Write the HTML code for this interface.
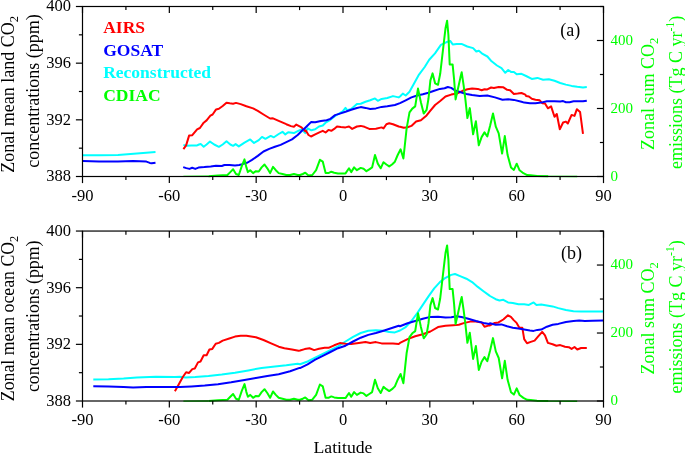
<!DOCTYPE html>
<html><head><meta charset="utf-8"><title>Zonal mean CO2</title>
<style>html,body{margin:0;padding:0;background:#fff}body{width:685px;height:454px;position:relative;overflow:hidden;font-family:"Liberation Serif",serif}</style>
</head><body>
<svg width="685" height="454" viewBox="0 0 685 454" style="position:absolute;left:0;top:0">
<polyline points="82.8,155.3 99.0,155.3 118.0,154.9 136.9,153.6 155.5,152.1" fill="none" stroke="#00ffff" stroke-width="2.0" stroke-linejoin="round" stroke-linecap="butt"/>
<polyline points="183.4,144.9 186.6,145.8 191.4,145.4 197.1,145.4 199.0,144.5 200.9,144.1 203.7,146.8 206.6,144.5 210.0,141.6 214.2,144.5 218.9,146.8 222.7,144.5 226.5,141.3 230.3,144.5 233.1,145.8 235.6,144.1 238.8,146.4 244.5,142.6 250.2,139.4 254.0,143.0 258.8,140.1 262.0,136.9 265.4,138.8 270.7,135.9 273.9,137.3 278.7,134.0 282.5,131.8 285.3,134.4 288.2,132.2 293.9,133.1 297.7,131.2 301.5,129.3 305.3,133.1 307.6,128.4 311.4,130.3 315.2,129.3 319.0,126.5 322.8,125.5 325.6,122.7 330.4,119.8 335.1,116.0 339.9,113.2 342.7,111.3 345.5,107.9 347.4,110.3 351.2,109.0 356.9,104.1 360.7,103.7 365.5,101.8 370.2,100.3 375.0,98.4 377.8,100.8 381.6,98.9 387.3,98.0 393.0,96.1 398.7,97.4 400.0,96.5 402.8,93.6 405.7,95.5 409.5,91.7 414.2,83.2 419.0,74.6 424.7,67.0 425.0,66.6 429.2,59.7 435.0,53.4 440.9,44.9 446.1,42.3 450.2,40.9 452.7,44.4 456.7,43.9 461.5,43.9 467.3,46.5 473.1,48.1 476.3,51.5 478.9,50.7 482.6,53.9 487.4,56.5 491.6,61.3 497.0,65.5 501.5,68.1 505.3,72.8 508.2,70.0 511.0,71.9 513.9,71.9 516.7,74.3 521.5,73.8 526.1,76.0 531.8,78.9 537.4,77.9 543.1,79.8 548.8,79.2 554.5,80.8 560.2,83.0 565.9,84.6 571.6,85.9 577.3,86.8 583.0,87.4 586.8,87.0" fill="none" stroke="#00ffff" stroke-width="2.0" stroke-linejoin="round" stroke-linecap="butt"/>
<polyline points="183.4,149.2 186.1,145.4 189.1,135.6 192.3,135.2 197.1,129.3 199.9,128.0 203.7,122.7 206.6,120.4 210.4,115.6 212.6,114.5 216.1,109.4 218.9,108.8 222.7,106.0 226.5,102.7 229.7,103.3 233.1,103.7 236.0,102.9 240.7,104.1 246.4,106.2 253.1,108.4 257.8,110.9 263.5,114.5 270.1,118.5 273.0,118.3 278.7,120.8 286.3,124.2 291.0,126.1 293.9,126.8 296.3,124.6 301.5,127.4 305.3,131.2 305.7,130.3 308.5,135.0 311.0,136.5 315.2,134.4 319.9,132.2 322.8,130.8 325.6,132.5 328.5,129.9 331.3,130.8 334.2,128.9 337.0,126.5 340.8,127.0 345.5,127.4 349.0,126.5 352.2,128.9 356.9,126.5 360.7,125.9 364.5,126.8 369.3,128.9 375.9,128.7 381.6,127.4 383.5,128.4 386.4,124.2 389.2,123.2 393.0,124.2 398.7,126.5 400.0,126.8 403.8,127.8 407.6,127.2 411.4,125.9 416.1,121.5 420.9,120.2 426.6,115.4 430.4,110.7 435.1,105.0 439.9,101.2 445.5,96.5 451.2,94.6 456.9,93.6 462.6,90.8 467.4,89.2 472.1,88.5 477.8,88.9 481.6,90.2 484.5,89.2 487.3,89.4 491.1,87.5 493.9,87.9 498.7,87.0 503.4,87.3 507.2,89.8 510.1,90.2 513.9,94.0 517.7,93.6 521.5,93.0 525.3,94.6 526.1,95.9 528.9,96.5 531.8,98.8 535.5,99.7 539.7,100.3 542.2,103.2 545.0,103.5 547.9,108.3 551.1,106.4 554.5,116.8 556.8,114.0 559.8,129.2 563.1,122.5 565.9,121.6 567.8,123.5 571.6,114.9 574.5,115.9 576.9,109.2 580.1,112.1 583.0,133.9" fill="none" stroke="#ff0000" stroke-width="2.0" stroke-linejoin="round" stroke-linecap="butt"/>
<polyline points="82.8,161.0 99.0,161.4 118.0,161.4 133.1,161.0 146.4,161.6 149.8,162.9 151.7,163.3 155.5,162.7" fill="none" stroke="#0000ff" stroke-width="2.0" stroke-linejoin="round" stroke-linecap="butt"/>
<polyline points="183.2,167.1 186.3,168.1 189.5,168.9 192.2,167.8 195.3,168.9 198.5,167.6 204.3,167.1 210.7,166.4 215.9,165.7 221.8,166.0 224.4,165.0 229.7,165.0 235.0,165.4 239.2,165.0 243.4,163.9 247.7,162.5 252.0,159.9 257.8,155.9 263.5,151.5 269.2,148.9 274.9,146.8 280.6,144.9 286.3,142.2 292.0,139.4 297.7,135.0 303.4,129.3 303.8,129.3 307.6,125.5 311.0,122.1 315.2,122.3 320.9,121.1 326.6,120.2 330.4,118.9 335.1,115.1 339.9,113.6 345.5,111.8 351.2,109.8 356.9,108.0 360.7,107.1 365.5,107.9 370.2,109.0 375.9,108.4 381.6,106.9 387.3,106.2 394.9,105.0 400.0,103.1 405.7,100.3 411.4,97.4 417.1,95.5 422.8,94.2 428.5,92.7 434.2,90.8 439.9,88.9 444.6,88.3 447.8,87.0 451.2,87.9 455.0,90.4 460.7,92.3 466.4,94.0 472.1,95.1 479.7,95.9 487.3,95.5 494.9,97.4 502.5,99.7 508.2,99.3 513.9,99.9 521.5,101.8 524.2,102.6 529.9,103.2 535.5,103.2 541.2,102.6 546.9,101.3 554.5,101.3 560.2,101.6 563.1,101.1 565.9,102.2 569.7,102.2 573.5,101.3 579.2,101.3 583.0,101.3 586.8,100.7" fill="none" stroke="#0000ff" stroke-width="2.0" stroke-linejoin="round" stroke-linecap="butt"/>
<polyline points="183.4,176.4 208.5,176.3" fill="none" stroke="#00ff00" stroke-width="1.4" stroke-linejoin="round" stroke-linecap="butt"/>
<polyline points="537.0,176.0 548.2,176.4 577.2,176.5" fill="none" stroke="#00ff00" stroke-width="1.4" stroke-linejoin="round" stroke-linecap="butt"/>
<polyline points="208.5,176.2 218.0,175.5 227.4,175.0 230.3,172.1 233.1,169.3 236.0,174.0 238.8,175.0 241.7,166.4 244.5,159.4 246.4,167.4 247.9,172.1 250.2,170.2 253.1,173.1 255.9,171.2 258.8,171.5 261.6,167.4 264.5,164.5 267.3,168.3 270.1,173.1 273.0,166.8 275.8,170.2 278.7,173.1 282.5,174.0 286.3,175.0 290.1,175.0 293.9,174.0 297.7,175.0 300.0,175.0 302.8,174.0 305.3,172.7 308.5,175.5 312.3,175.0 316.1,170.2 319.9,159.8 322.8,161.7 325.6,173.1 328.5,173.1 331.3,171.7 334.2,172.7 338.0,173.4 345.5,173.4 349.0,168.3 351.2,172.1 354.1,167.4 356.9,170.2 360.7,167.9 363.6,168.7 366.4,171.2 369.3,169.3 372.1,167.4 375.0,155.0 377.8,163.6 380.7,168.3 383.5,162.2 386.4,164.5 389.2,166.4 392.0,164.5 394.9,161.7 397.7,155.0 400.6,149.3 403.4,158.5 406.6,128.6 409.5,112.4 412.3,108.6 415.2,106.4 418.0,88.6 420.9,102.3 423.7,113.6 426.6,109.8 428.5,98.5 430.4,80.4 432.6,73.4 435.1,83.3 438.0,84.8 440.2,73.8 443.6,44.5 445.5,28.3 447.1,20.7 448.4,35.0 449.7,64.4 452.6,64.4 454.1,79.5 455.6,99.4 457.9,89.0 460.4,77.6 461.7,72.3 463.6,85.2 465.5,100.4 467.4,118.1 469.8,108.1 473.1,134.3 475.9,121.3 478.8,145.3 481.6,137.1 484.5,132.4 487.3,136.5 490.1,125.7 493.0,113.4 495.8,126.7 498.7,133.3 502.1,153.6 504.8,136.1 507.6,155.1 511.0,167.5 513.9,169.9 516.7,163.7 519.6,170.3 523.4,173.2 527.2,175.1 530.6,175.2 537.0,176.0 548.2,176.3" fill="none" stroke="#00ff00" stroke-width="2.0" stroke-linejoin="round" stroke-linecap="butt"/>
<rect x="82.50" y="6.50" width="521.00" height="170.00" fill="none" stroke="#000" stroke-width="1.2"/>
<line x1="82.50" y1="176.50" x2="82.50" y2="183.10" stroke="#000" stroke-width="1.2"/>
<line x1="82.50" y1="6.50" x2="82.50" y2="13.10" stroke="#000" stroke-width="1.2"/>
<text x="82.5" y="201.1" text-anchor="middle" font-size="16.5" font-family="Liberation Serif, serif">-90</text>
<line x1="125.92" y1="176.50" x2="125.92" y2="180.10" stroke="#000" stroke-width="1.2"/>
<line x1="125.92" y1="6.50" x2="125.92" y2="10.10" stroke="#000" stroke-width="1.2"/>
<line x1="169.33" y1="176.50" x2="169.33" y2="183.10" stroke="#000" stroke-width="1.2"/>
<line x1="169.33" y1="6.50" x2="169.33" y2="13.10" stroke="#000" stroke-width="1.2"/>
<text x="169.3" y="201.1" text-anchor="middle" font-size="16.5" font-family="Liberation Serif, serif">-60</text>
<line x1="212.75" y1="176.50" x2="212.75" y2="180.10" stroke="#000" stroke-width="1.2"/>
<line x1="212.75" y1="6.50" x2="212.75" y2="10.10" stroke="#000" stroke-width="1.2"/>
<line x1="256.17" y1="176.50" x2="256.17" y2="183.10" stroke="#000" stroke-width="1.2"/>
<line x1="256.17" y1="6.50" x2="256.17" y2="13.10" stroke="#000" stroke-width="1.2"/>
<text x="256.2" y="201.1" text-anchor="middle" font-size="16.5" font-family="Liberation Serif, serif">-30</text>
<line x1="299.58" y1="176.50" x2="299.58" y2="180.10" stroke="#000" stroke-width="1.2"/>
<line x1="299.58" y1="6.50" x2="299.58" y2="10.10" stroke="#000" stroke-width="1.2"/>
<line x1="343.00" y1="176.50" x2="343.00" y2="183.10" stroke="#000" stroke-width="1.2"/>
<line x1="343.00" y1="6.50" x2="343.00" y2="13.10" stroke="#000" stroke-width="1.2"/>
<text x="343.0" y="201.1" text-anchor="middle" font-size="16.5" font-family="Liberation Serif, serif">0</text>
<line x1="386.42" y1="176.50" x2="386.42" y2="180.10" stroke="#000" stroke-width="1.2"/>
<line x1="386.42" y1="6.50" x2="386.42" y2="10.10" stroke="#000" stroke-width="1.2"/>
<line x1="429.83" y1="176.50" x2="429.83" y2="183.10" stroke="#000" stroke-width="1.2"/>
<line x1="429.83" y1="6.50" x2="429.83" y2="13.10" stroke="#000" stroke-width="1.2"/>
<text x="429.8" y="201.1" text-anchor="middle" font-size="16.5" font-family="Liberation Serif, serif">30</text>
<line x1="473.25" y1="176.50" x2="473.25" y2="180.10" stroke="#000" stroke-width="1.2"/>
<line x1="473.25" y1="6.50" x2="473.25" y2="10.10" stroke="#000" stroke-width="1.2"/>
<line x1="516.67" y1="176.50" x2="516.67" y2="183.10" stroke="#000" stroke-width="1.2"/>
<line x1="516.67" y1="6.50" x2="516.67" y2="13.10" stroke="#000" stroke-width="1.2"/>
<text x="516.7" y="201.1" text-anchor="middle" font-size="16.5" font-family="Liberation Serif, serif">60</text>
<line x1="560.08" y1="176.50" x2="560.08" y2="180.10" stroke="#000" stroke-width="1.2"/>
<line x1="560.08" y1="6.50" x2="560.08" y2="10.10" stroke="#000" stroke-width="1.2"/>
<line x1="603.50" y1="176.50" x2="603.50" y2="183.10" stroke="#000" stroke-width="1.2"/>
<line x1="603.50" y1="6.50" x2="603.50" y2="13.10" stroke="#000" stroke-width="1.2"/>
<text x="603.5" y="201.1" text-anchor="middle" font-size="16.5" font-family="Liberation Serif, serif">90</text>
<line x1="75.90" y1="176.50" x2="82.50" y2="176.50" stroke="#000" stroke-width="1.2"/>
<text x="71.1" y="181.3" text-anchor="end" font-size="16.5" font-family="Liberation Serif, serif">388</text>
<line x1="78.90" y1="148.17" x2="82.50" y2="148.17" stroke="#000" stroke-width="1.2"/>
<line x1="75.90" y1="119.83" x2="82.50" y2="119.83" stroke="#000" stroke-width="1.2"/>
<text x="71.1" y="124.6" text-anchor="end" font-size="16.5" font-family="Liberation Serif, serif">392</text>
<line x1="78.90" y1="91.50" x2="82.50" y2="91.50" stroke="#000" stroke-width="1.2"/>
<line x1="75.90" y1="63.17" x2="82.50" y2="63.17" stroke="#000" stroke-width="1.2"/>
<text x="71.1" y="68.0" text-anchor="end" font-size="16.5" font-family="Liberation Serif, serif">396</text>
<line x1="78.90" y1="34.83" x2="82.50" y2="34.83" stroke="#000" stroke-width="1.2"/>
<line x1="75.90" y1="6.50" x2="82.50" y2="6.50" stroke="#000" stroke-width="1.2"/>
<text x="71.1" y="11.3" text-anchor="end" font-size="16.5" font-family="Liberation Serif, serif">400</text>
<line x1="596.90" y1="176.50" x2="603.50" y2="176.50" stroke="#000" stroke-width="1.2"/>
<text x="610.5" y="180.6" text-anchor="start" font-size="15" fill="#00ff00" font-family="Liberation Serif, serif">0</text>
<line x1="599.90" y1="142.50" x2="603.50" y2="142.50" stroke="#000" stroke-width="1.2"/>
<line x1="596.90" y1="108.50" x2="603.50" y2="108.50" stroke="#000" stroke-width="1.2"/>
<text x="610.5" y="112.6" text-anchor="start" font-size="15" fill="#00ff00" font-family="Liberation Serif, serif">200</text>
<line x1="599.90" y1="74.50" x2="603.50" y2="74.50" stroke="#000" stroke-width="1.2"/>
<line x1="596.90" y1="40.50" x2="603.50" y2="40.50" stroke="#000" stroke-width="1.2"/>
<text x="610.5" y="44.6" text-anchor="start" font-size="15" fill="#00ff00" font-family="Liberation Serif, serif">400</text>
<line x1="599.90" y1="6.50" x2="603.50" y2="6.50" stroke="#000" stroke-width="1.2"/>
<text x="570.2" y="35.5" text-anchor="middle" font-size="18" font-family="Liberation Serif, serif">(a)</text>
<text transform="translate(13.6,94.4) rotate(-90) scale(1,1)" text-anchor="middle" font-size="18" font-family="Liberation Serif, serif">Zonal mean land CO<tspan font-size="12.5" dy="4.0">2</tspan></text>
<text transform="translate(39.0,91.0) rotate(-90) scale(1,1)" text-anchor="middle" font-size="18" font-family="Liberation Serif, serif">concentrations (ppm)</text>
<text transform="translate(653.5,93.9) rotate(-90)" text-anchor="middle" font-size="18" fill="#00ff00" font-family="Liberation Serif, serif">Zonal sum CO<tspan font-size="12.5" dy="4.5">2</tspan></text>
<text transform="translate(681.6,92.4) rotate(-90)" text-anchor="middle" font-size="18" fill="#00ff00" font-family="Liberation Serif, serif">emissions (Tg C yr<tspan font-size="11.5" dy="-7.5">-1</tspan><tspan dy="7.5">)</tspan></text>
<polyline points="93.3,379.5 108.5,379.3 123.6,378.5 136.9,377.4 155.9,376.7 174.9,377.0 180.0,376.7 185.7,377.4 195.2,377.0 208.5,376.1 221.8,374.6 235.0,372.7 248.3,370.4 261.6,367.9 274.9,366.6 286.3,365.3 297.7,363.7 300.0,364.3 307.6,361.5 315.2,357.7 322.8,353.9 330.4,350.1 338.0,346.3 345.5,341.5 353.1,336.8 360.7,333.0 368.3,330.7 375.9,330.2 383.5,330.7 389.2,332.1 394.9,332.4 400.0,330.5 405.7,327.1 411.4,321.0 417.1,313.4 422.8,304.9 428.5,296.4 434.2,288.4 439.9,282.1 445.5,277.8 451.2,274.9 455.0,274.0 460.7,276.4 466.4,278.7 472.1,282.1 477.8,286.9 483.5,291.2 489.2,295.4 490.0,296.0 495.7,299.2 499.5,300.5 503.3,299.8 508.0,302.4 512.8,303.0 518.5,304.3 524.2,304.3 528.9,304.9 533.6,302.4 536.5,304.9 541.2,304.5 546.9,305.5 552.6,306.4 558.3,308.1 565.9,310.0 573.5,311.2 581.1,311.5 590.6,311.5 598.2,311.5 603.3,311.5" fill="none" stroke="#00ffff" stroke-width="2.0" stroke-linejoin="round" stroke-linecap="butt"/>
<polyline points="174.9,391.3 178.7,384.6 182.8,377.0 186.1,372.3 189.1,372.9 192.3,369.1 194.8,368.5 198.0,362.4 200.5,361.5 203.7,355.2 206.6,355.2 209.4,349.5 212.3,348.9 215.7,343.8 218.9,342.9 222.7,340.6 229.3,338.5 235.0,336.6 240.7,335.7 246.4,335.8 255.9,337.2 263.5,340.0 271.1,343.4 278.7,346.7 284.4,348.2 292.0,349.5 298.6,350.8 300.0,350.5 304.7,349.1 309.5,348.2 314.2,350.1 319.0,348.8 324.7,347.8 328.5,347.8 334.2,345.3 339.9,343.1 345.5,343.8 351.2,344.0 358.8,342.9 365.5,341.9 370.2,342.9 375.9,342.1 381.6,343.4 387.3,343.4 393.0,343.4 398.7,344.0 400.0,342.9 407.6,339.1 415.2,336.2 422.8,334.3 430.4,331.5 438.0,327.1 445.5,325.8 453.1,325.2 458.8,324.8 464.5,322.9 470.2,321.6 475.9,321.4 481.6,322.5 484.5,326.7 489.2,325.4 490.0,325.4 494.7,322.9 498.5,322.4 503.3,319.5 508.0,315.3 510.9,316.9 513.7,320.1 516.6,322.9 519.4,327.7 522.3,327.7 524.2,339.1 527.0,343.2 530.8,341.9 534.6,340.6 538.4,336.2 542.2,331.9 545.0,335.3 547.9,342.9 552.6,344.2 556.4,345.7 560.2,345.1 565.0,346.7 568.8,347.2 571.6,348.9 574.5,347.0 577.3,349.5 581.1,348.0 586.8,348.0" fill="none" stroke="#ff0000" stroke-width="2.0" stroke-linejoin="round" stroke-linecap="butt"/>
<polyline points="93.3,386.3 108.5,386.5 123.6,387.1 133.1,387.5 146.4,386.9 161.6,387.1 174.9,387.1 180.0,387.1 191.4,386.5 204.7,385.6 218.0,384.2 231.2,382.3 244.5,379.9 255.9,378.0 267.3,376.1 278.7,374.2 290.1,371.3 299.6,367.9 300.0,368.1 307.6,364.3 315.2,359.6 322.8,355.8 330.4,352.0 338.0,348.2 345.5,345.7 353.1,341.5 360.7,337.7 368.3,334.9 375.9,333.0 383.5,330.7 391.1,328.3 398.7,325.8 400.0,326.3 407.6,323.3 415.2,321.0 422.8,318.8 430.4,316.9 438.0,316.7 445.5,317.6 451.2,317.2 456.9,316.3 462.6,317.2 468.3,318.8 475.9,321.0 483.5,322.9 489.2,324.1 490.0,323.3 495.7,324.8 501.4,324.4 507.1,326.3 512.8,327.7 518.5,328.6 524.2,329.6 529.9,330.5 533.6,330.9 537.4,329.9 541.2,329.6 546.9,326.7 552.6,324.8 558.3,323.9 565.9,322.0 573.5,321.0 579.2,320.5 584.9,321.0 592.5,320.7 603.3,320.5" fill="none" stroke="#0000ff" stroke-width="2.0" stroke-linejoin="round" stroke-linecap="butt"/>
<polyline points="183.4,401.1 208.5,401.0" fill="none" stroke="#00ff00" stroke-width="1.4" stroke-linejoin="round" stroke-linecap="butt"/>
<polyline points="537.0,400.7 548.2,401.1 577.2,401.2" fill="none" stroke="#00ff00" stroke-width="1.4" stroke-linejoin="round" stroke-linecap="butt"/>
<polyline points="208.5,400.9 218.0,400.2 227.4,399.7 230.3,396.8 233.1,394.0 236.0,398.7 238.8,399.7 241.7,391.1 244.5,384.1 246.4,392.1 247.9,396.8 250.2,394.9 253.1,397.8 255.9,395.9 258.8,396.2 261.6,392.1 264.5,389.2 267.3,393.0 270.1,397.8 273.0,391.5 275.8,394.9 278.7,397.8 282.5,398.7 286.3,399.7 290.1,399.7 293.9,398.7 297.7,399.7 300.0,399.7 302.8,398.7 305.3,397.4 308.5,400.2 312.3,399.7 316.1,394.9 319.9,384.5 322.8,386.4 325.6,397.8 328.5,397.8 331.3,396.4 334.2,397.4 338.0,398.1 345.5,398.1 349.0,393.0 351.2,396.8 354.1,392.1 356.9,394.9 360.7,392.6 363.6,393.4 366.4,395.9 369.3,394.0 372.1,392.1 375.0,379.7 377.8,388.3 380.7,393.0 383.5,386.9 386.4,389.2 389.2,391.1 392.0,389.2 394.9,386.4 397.7,379.7 400.6,374.0 403.4,383.2 406.6,353.3 409.5,337.1 412.3,333.3 415.2,331.1 418.0,313.3 420.9,327.0 423.7,338.3 426.6,334.5 428.5,323.2 430.4,305.1 432.6,298.1 435.1,308.0 438.0,309.5 440.2,298.5 443.6,269.2 445.5,253.0 447.1,245.4 448.4,259.7 449.7,289.1 452.6,289.1 454.1,304.2 455.6,324.1 457.9,313.7 460.4,302.3 461.7,297.0 463.6,309.9 465.5,325.1 467.4,342.8 469.8,332.8 473.1,359.0 475.9,346.0 478.8,370.0 481.6,361.8 484.5,357.1 487.3,361.2 490.1,350.4 493.0,338.1 495.8,351.4 498.7,358.0 502.1,378.3 504.8,360.8 507.6,379.8 511.0,392.2 513.9,394.6 516.7,388.4 519.6,395.0 523.4,397.9 527.2,399.8 530.6,399.9 537.0,400.7 548.2,401.0" fill="none" stroke="#00ff00" stroke-width="2.0" stroke-linejoin="round" stroke-linecap="butt"/>
<rect x="82.50" y="231.05" width="521.00" height="169.95" fill="none" stroke="#000" stroke-width="1.2"/>
<line x1="82.50" y1="401.00" x2="82.50" y2="407.60" stroke="#000" stroke-width="1.2"/>
<line x1="82.50" y1="231.05" x2="82.50" y2="237.65" stroke="#000" stroke-width="1.2"/>
<text x="82.5" y="425.1" text-anchor="middle" font-size="16.5" font-family="Liberation Serif, serif">-90</text>
<line x1="125.92" y1="401.00" x2="125.92" y2="404.60" stroke="#000" stroke-width="1.2"/>
<line x1="125.92" y1="231.05" x2="125.92" y2="234.65" stroke="#000" stroke-width="1.2"/>
<line x1="169.33" y1="401.00" x2="169.33" y2="407.60" stroke="#000" stroke-width="1.2"/>
<line x1="169.33" y1="231.05" x2="169.33" y2="237.65" stroke="#000" stroke-width="1.2"/>
<text x="169.3" y="425.1" text-anchor="middle" font-size="16.5" font-family="Liberation Serif, serif">-60</text>
<line x1="212.75" y1="401.00" x2="212.75" y2="404.60" stroke="#000" stroke-width="1.2"/>
<line x1="212.75" y1="231.05" x2="212.75" y2="234.65" stroke="#000" stroke-width="1.2"/>
<line x1="256.17" y1="401.00" x2="256.17" y2="407.60" stroke="#000" stroke-width="1.2"/>
<line x1="256.17" y1="231.05" x2="256.17" y2="237.65" stroke="#000" stroke-width="1.2"/>
<text x="256.2" y="425.1" text-anchor="middle" font-size="16.5" font-family="Liberation Serif, serif">-30</text>
<line x1="299.58" y1="401.00" x2="299.58" y2="404.60" stroke="#000" stroke-width="1.2"/>
<line x1="299.58" y1="231.05" x2="299.58" y2="234.65" stroke="#000" stroke-width="1.2"/>
<line x1="343.00" y1="401.00" x2="343.00" y2="407.60" stroke="#000" stroke-width="1.2"/>
<line x1="343.00" y1="231.05" x2="343.00" y2="237.65" stroke="#000" stroke-width="1.2"/>
<text x="343.0" y="425.1" text-anchor="middle" font-size="16.5" font-family="Liberation Serif, serif">0</text>
<line x1="386.42" y1="401.00" x2="386.42" y2="404.60" stroke="#000" stroke-width="1.2"/>
<line x1="386.42" y1="231.05" x2="386.42" y2="234.65" stroke="#000" stroke-width="1.2"/>
<line x1="429.83" y1="401.00" x2="429.83" y2="407.60" stroke="#000" stroke-width="1.2"/>
<line x1="429.83" y1="231.05" x2="429.83" y2="237.65" stroke="#000" stroke-width="1.2"/>
<text x="429.8" y="425.1" text-anchor="middle" font-size="16.5" font-family="Liberation Serif, serif">30</text>
<line x1="473.25" y1="401.00" x2="473.25" y2="404.60" stroke="#000" stroke-width="1.2"/>
<line x1="473.25" y1="231.05" x2="473.25" y2="234.65" stroke="#000" stroke-width="1.2"/>
<line x1="516.67" y1="401.00" x2="516.67" y2="407.60" stroke="#000" stroke-width="1.2"/>
<line x1="516.67" y1="231.05" x2="516.67" y2="237.65" stroke="#000" stroke-width="1.2"/>
<text x="516.7" y="425.1" text-anchor="middle" font-size="16.5" font-family="Liberation Serif, serif">60</text>
<line x1="560.08" y1="401.00" x2="560.08" y2="404.60" stroke="#000" stroke-width="1.2"/>
<line x1="560.08" y1="231.05" x2="560.08" y2="234.65" stroke="#000" stroke-width="1.2"/>
<line x1="603.50" y1="401.00" x2="603.50" y2="407.60" stroke="#000" stroke-width="1.2"/>
<line x1="603.50" y1="231.05" x2="603.50" y2="237.65" stroke="#000" stroke-width="1.2"/>
<text x="603.5" y="425.1" text-anchor="middle" font-size="16.5" font-family="Liberation Serif, serif">90</text>
<line x1="75.90" y1="401.00" x2="82.50" y2="401.00" stroke="#000" stroke-width="1.2"/>
<text x="71.1" y="405.8" text-anchor="end" font-size="16.5" font-family="Liberation Serif, serif">388</text>
<line x1="78.90" y1="372.68" x2="82.50" y2="372.68" stroke="#000" stroke-width="1.2"/>
<line x1="75.90" y1="344.35" x2="82.50" y2="344.35" stroke="#000" stroke-width="1.2"/>
<text x="71.1" y="349.2" text-anchor="end" font-size="16.5" font-family="Liberation Serif, serif">392</text>
<line x1="78.90" y1="316.02" x2="82.50" y2="316.02" stroke="#000" stroke-width="1.2"/>
<line x1="75.90" y1="287.70" x2="82.50" y2="287.70" stroke="#000" stroke-width="1.2"/>
<text x="71.1" y="292.5" text-anchor="end" font-size="16.5" font-family="Liberation Serif, serif">396</text>
<line x1="78.90" y1="259.38" x2="82.50" y2="259.38" stroke="#000" stroke-width="1.2"/>
<line x1="75.90" y1="231.05" x2="82.50" y2="231.05" stroke="#000" stroke-width="1.2"/>
<text x="71.1" y="235.9" text-anchor="end" font-size="16.5" font-family="Liberation Serif, serif">400</text>
<line x1="596.90" y1="401.00" x2="603.50" y2="401.00" stroke="#000" stroke-width="1.2"/>
<text x="610.5" y="405.1" text-anchor="start" font-size="15" fill="#00ff00" font-family="Liberation Serif, serif">0</text>
<line x1="599.90" y1="367.01" x2="603.50" y2="367.01" stroke="#000" stroke-width="1.2"/>
<line x1="596.90" y1="333.02" x2="603.50" y2="333.02" stroke="#000" stroke-width="1.2"/>
<text x="610.5" y="337.1" text-anchor="start" font-size="15" fill="#00ff00" font-family="Liberation Serif, serif">200</text>
<line x1="599.90" y1="299.03" x2="603.50" y2="299.03" stroke="#000" stroke-width="1.2"/>
<line x1="596.90" y1="265.04" x2="603.50" y2="265.04" stroke="#000" stroke-width="1.2"/>
<text x="610.5" y="269.1" text-anchor="start" font-size="15" fill="#00ff00" font-family="Liberation Serif, serif">400</text>
<line x1="599.90" y1="231.05" x2="603.50" y2="231.05" stroke="#000" stroke-width="1.2"/>
<text x="571.6" y="259.1" text-anchor="middle" font-size="18" font-family="Liberation Serif, serif">(b)</text>
<text transform="translate(13.6,318.5) rotate(-90) scale(0.987,1)" text-anchor="middle" font-size="18" font-family="Liberation Serif, serif">Zonal mean ocean CO<tspan font-size="12.5" dy="4.0">2</tspan></text>
<text transform="translate(39.0,316.3) rotate(-90) scale(0.988,1)" text-anchor="middle" font-size="18" font-family="Liberation Serif, serif">concentrations (ppm)</text>
<text transform="translate(653.5,318.4) rotate(-90)" text-anchor="middle" font-size="18" fill="#00ff00" font-family="Liberation Serif, serif">Zonal sum CO<tspan font-size="12.5" dy="4.5">2</tspan></text>
<text transform="translate(681.6,316.9) rotate(-90)" text-anchor="middle" font-size="18" fill="#00ff00" font-family="Liberation Serif, serif">emissions (Tg C yr<tspan font-size="11.5" dy="-7.5">-1</tspan><tspan dy="7.5">)</tspan></text>
<text x="103.2" y="33.4" font-size="17.5" font-weight="bold" fill="#ff0000" font-family="Liberation Serif, serif">AIRS</text>
<text x="103.2" y="55.8" font-size="17.5" font-weight="bold" fill="#0000ff" font-family="Liberation Serif, serif">GOSAT</text>
<text x="103.2" y="78.2" font-size="17.5" font-weight="bold" fill="#00ffff" font-family="Liberation Serif, serif">Reconstructed</text>
<text x="103.2" y="100.6" font-size="17.5" font-weight="bold" fill="#00ff00" font-family="Liberation Serif, serif">CDIAC</text>
<text x="343" y="452.6" text-anchor="middle" font-size="17.7" font-family="Liberation Serif, serif">Latitude</text>
</svg>
</body></html>
